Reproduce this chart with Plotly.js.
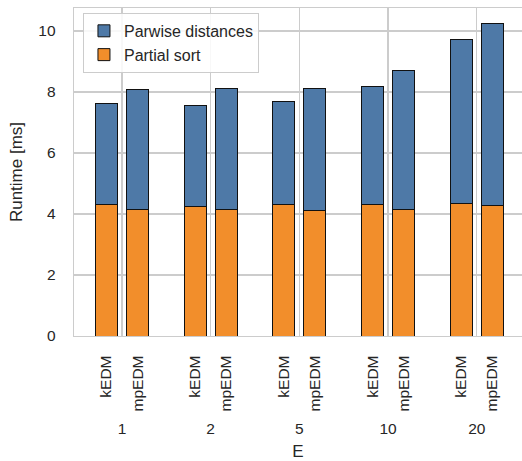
<!DOCTYPE html>
<html>
<head>
<meta charset="utf-8">
<script src="https://cdn.plot.ly/plotly-3.0.1.min.js"></script>
<style>html,body{margin:0;padding:0;background:#fff;}#chart{width:522px;height:461px;}</style>
</head>
<body>
<div id="chart"></div>
<script>
// Data
var E_LABELS = ['1', '2', '5', '10', '20'];
var IMPLS = ['kEDM', 'mpEDM'];
var partialSort_kEDM  = [4.30, 4.26, 4.32, 4.31, 4.35];
var partialSort_mpEDM = [4.13, 4.13, 4.12, 4.16, 4.28];
var pairwise_kEDM     = [3.31, 3.30, 3.35, 3.88, 5.38];
var pairwise_mpEDM    = [3.96, 3.97, 4.00, 4.54, 5.96];

// Layout helpers
var OFFSET = 0.175, BARW = 0.248;
var groupPos = E_LABELS.map(function (_, i) { return i; });
var xK = groupPos.map(function (g) { return g - OFFSET; });
var xM = groupPos.map(function (g) { return g + OFFSET; });
var xAll = xK.concat(xM);
var partialAll = partialSort_kEDM.concat(partialSort_mpEDM);
var pairwiseAll = pairwise_kEDM.concat(pairwise_mpEDM);
var tickPos = [], tickText = [];
groupPos.forEach(function (g) {
  tickPos.push(g - OFFSET, g + OFFSET);
  tickText.push(IMPLS[0], IMPLS[1]);
});

var BLUE = '#4e79a7', ORANGE = '#f28e2b', GRID = '#cccccc', TXT = '#262626';
var FONT = 'Liberation Sans, Arial, sans-serif';

var traces = [
  { type: 'bar', name: 'Partial sort', x: xAll, y: partialAll, width: BARW,
    marker: { color: ORANGE, line: { color: '#111', width: 1 } } },
  { type: 'bar', name: 'Parwise distances', x: xAll, y: pairwiseAll, width: BARW,
    marker: { color: BLUE, line: { color: '#111', width: 1 } } },
  // invisible trace to activate the group-label axis
  { type: 'scatter', x: groupPos, y: groupPos.map(function () { return 0; }), xaxis: 'x2',
    mode: 'markers', marker: { opacity: 0 }, showlegend: false, hoverinfo: 'skip' }
];

var XR = [-0.541, 4.51];
var layout = {
  width: 522, height: 461,
  margin: { l: 74, r: 0, t: 8, b: 125 },
  paper_bgcolor: '#fff', plot_bgcolor: '#fff',
  font: { family: FONT, color: TXT, size: 15.5 },
  barmode: 'stack',
  showlegend: true,
  legend: { x: 0.02, y: 0.985, xanchor: 'left', yanchor: 'top',
    bgcolor: 'rgba(255,255,255,0.85)', bordercolor: GRID, borderwidth: 1,
    font: { size: 16, color: TXT }, traceorder: 'reversed' },
  xaxis: {
    range: XR, tickmode: 'array', tickvals: tickPos, ticktext: tickText,
    tickangle: -90, ticks: '', showgrid: false, zeroline: false,
    showline: true, linecolor: GRID, linewidth: 1.3, mirror: true,
    tickfont: { size: 15.5, color: TXT }, ticklabelstandoff: 12
  },
  xaxis2: {
    overlaying: 'x', side: 'bottom', range: XR, tickmode: 'array',
    tickvals: groupPos, ticktext: E_LABELS, ticks: '',
    showgrid: true, gridcolor: GRID, gridwidth: 1.3, zeroline: false,
    tickfont: { size: 15.5, color: TXT }, ticklabelstandoff: 81,
    title: { text: 'E', font: { size: 17, color: TXT }, standoff: 13 }
  },
  yaxis: {
    range: [0, 10.75], tickmode: 'array', tickvals: [0, 2, 4, 6, 8, 10],
    ticks: '', showgrid: true, gridcolor: GRID, gridwidth: 1.3, zeroline: false,
    showline: true, linecolor: GRID, linewidth: 1.3,
    tickfont: { size: 15.5, color: TXT }, ticklabelstandoff: 14,
    title: { text: 'Runtime [ms]', font: { size: 17, color: TXT }, standoff: 11 }
  }
};

Plotly.newPlot('chart', traces, layout, { displayModeBar: false, staticPlot: true });
</script>
</body>
</html>
